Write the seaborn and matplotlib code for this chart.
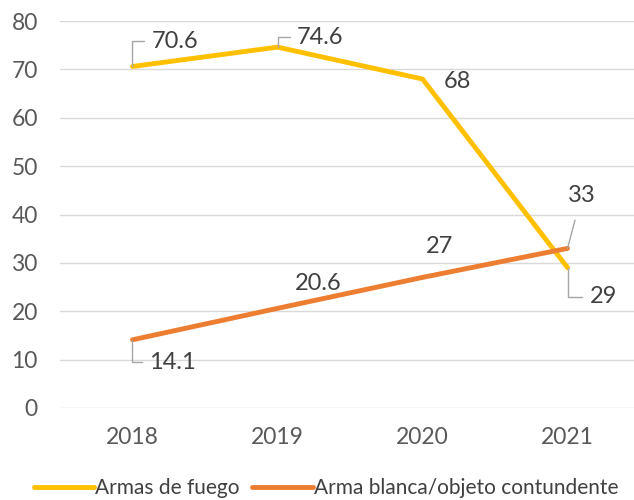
import pandas as pd
import seaborn as sns
import matplotlib.pyplot as plt

years = ["2018", "2019", "2020", "2021"]
fuego = [70.6, 74.6, 68, 29]
blanca = [14.1, 20.6, 27, 33]
series_names = ["Armas de fuego", "Arma blanca/objeto contundente"]
colors = ["#FFC000", "#ED7D31"]

df = pd.DataFrame({
    "year": years * 2,
    "value": fuego + blanca,
    "serie": [series_names[0]] * 4 + [series_names[1]] * 4,
})

sns.set_theme(style="white")
plt.rcParams["font.family"] = ["Lato", "DejaVu Sans"]

fig = plt.figure(figsize=(6.34, 5), dpi=100)
ax = fig.add_axes([0.0946, 0.184, 0.915, 0.774])

sns.lineplot(data=df, x="year", y="value", hue="serie", palette=colors,
             linewidth=3.5, ax=ax, sort=False)

ax.set_xlim(-0.5, 3.5)
ax.set_ylim(0, 80)
ax.set_yticks(range(0, 81, 10))
ax.yaxis.grid(True, color="#d9d9d9", linewidth=1)
ax.set_axisbelow(True)
for s in ax.spines.values():
    s.set_visible(False)
ax.tick_params(axis="both", labelsize=16.5, colors="#595959", length=0)
ax.tick_params(axis="y", pad=16)
ax.tick_params(axis="x", pad=14)
ax.set_xlabel("")
ax.set_ylabel("")

txt = dict(fontsize=17, color="#404040")
leader = dict(arrowstyle="-", color="#a6a6a6", lw=1, shrinkA=3, shrinkB=0)

# leader style: horizontal from text, then vertical to point
angle = dict(leader, connectionstyle="angle,angleA=0,angleB=90,rad=0")

ax.annotate(f"{fuego[0]}", (0, fuego[0]), xytext=(14, 18), textcoords="offset points",
            ha="left", va="center", arrowprops=angle, **txt)
ax.annotate(f"{fuego[1]}", (1, fuego[1]), xytext=(14, 7), textcoords="offset points",
            ha="left", va="center", arrowprops=angle, **txt)
ax.annotate(f"{fuego[2]:g}", (2, fuego[2]), xytext=(15, -2), textcoords="offset points",
            ha="left", va="center", **txt)
ax.annotate(f"{fuego[3]:g}", (3, fuego[3]), xytext=(16, -21), textcoords="offset points",
            ha="left", va="center", arrowprops=angle, **txt)

ax.annotate(f"{blanca[0]}", (0, blanca[0]), xytext=(12, -16), textcoords="offset points",
            ha="left", va="center", arrowprops=angle, **txt)
ax.annotate(f"{blanca[1]}", (1, blanca[1]), xytext=(29, 18), textcoords="offset points",
            ha="center", va="center", **txt)
ax.annotate(f"{blanca[2]:g}", (2, blanca[2]), xytext=(12, 22), textcoords="offset points",
            ha="center", va="center", **txt)
ax.annotate(f"{blanca[3]:g}", (3, blanca[3]), xytext=(10, 38), textcoords="offset points",
            ha="center", va="center", arrowprops=dict(leader, shrinkA=8), **txt)

handles, labels = ax.get_legend_handles_labels()
ax.get_legend().remove()
fig.legend(handles, labels, loc="center", bbox_to_anchor=(0.514, 0.024),
           ncol=2, frameon=False, fontsize=15, labelcolor="#404040",
           handlelength=2.9, handletextpad=0.05, columnspacing=0.6)

fig.savefig("out.png", dpi=100)
